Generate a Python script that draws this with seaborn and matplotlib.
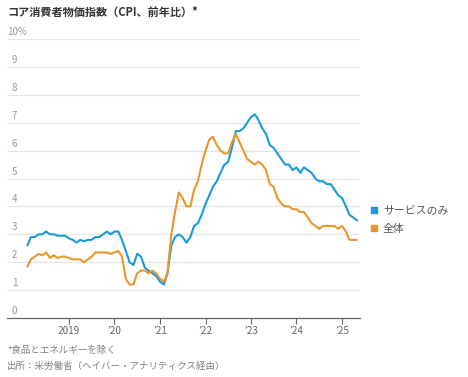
import numpy as np
import pandas as pd
import matplotlib
matplotlib.use("Agg")
import matplotlib.pyplot as plt
import matplotlib.transforms as mtransforms
from matplotlib.lines import Line2D
import seaborn as sns

# ---- data (monthly, Feb 2018 - May 2025) ----
months = pd.date_range("2018-02-01", "2025-05-01", freq="MS")

services_only = [
    2.6, 2.9, 2.9, 3.0, 3.0, 3.1, 3.0, 3.0, 2.95, 2.95, 2.95,           # 2018
    2.85, 2.8, 2.7, 2.8, 2.75, 2.8, 2.8, 2.9, 2.9, 3.0, 3.1, 3.0,     # 2019
    3.1, 3.1, 2.8, 2.4, 2.0, 1.9, 2.3, 2.2, 1.8, 1.7, 1.6, 1.5,       # 2020
    1.3, 1.2, 1.6, 2.6, 2.9, 3.0, 2.9, 2.7, 2.9, 3.3, 3.4, 3.7,       # 2021
    4.1, 4.4, 4.7, 4.9, 5.2, 5.5, 5.6, 6.1, 6.7, 6.7, 6.8, 7.0,       # 2022
    7.2, 7.3, 7.1, 6.8, 6.6, 6.2, 6.1, 5.9, 5.7, 5.5, 5.5, 5.3,       # 2023
    5.4, 5.2, 5.4, 5.3, 5.2, 5.0, 4.9, 4.9, 4.8, 4.8, 4.6, 4.4,       # 2024
    4.3, 4.0, 3.7, 3.6, 3.5,                                          # 2025
]
overall = [
    1.85, 2.1, 2.2, 2.3, 2.25, 2.35, 2.15, 2.25, 2.15, 2.2, 2.2,      # 2018
    2.15, 2.1, 2.1, 2.1, 2.0, 2.1, 2.2, 2.35, 2.35, 2.35, 2.35, 2.3,  # 2019
    2.35, 2.4, 2.2, 1.4, 1.2, 1.2, 1.6, 1.7, 1.7, 1.6, 1.7, 1.6,      # 2020
    1.4, 1.3, 1.6, 3.0, 3.8, 4.5, 4.3, 4.0, 4.0, 4.6, 4.9, 5.5,       # 2021
    6.0, 6.4, 6.5, 6.2, 6.0, 5.9, 5.9, 6.3, 6.6, 6.3, 6.0, 5.7,       # 2022
    5.6, 5.5, 5.6, 5.5, 5.3, 4.8, 4.7, 4.3, 4.1, 4.0, 4.0, 3.9,       # 2023
    3.9, 3.8, 3.8, 3.6, 3.4, 3.3, 3.2, 3.3, 3.3, 3.3, 3.3, 3.2,       # 2024
    3.3, 3.1, 2.8, 2.8, 2.8,                                          # 2025
]
series_names = ["サービスのみ", "全体"]
colors = ["#1a9ad8", "#e8972c"]

y_ticks = [0, 1, 2, 3, 4, 5, 6, 7, 8, 9, 10]
y_labels = ["0", "1", "2", "3", "4", "5", "6", "7", "8", "9", "10%"]
x_tick_dates = ["2019-01-01", "2020-01-01", "2021-01-01", "2022-01-01",
                "2023-01-01", "2024-01-01", "2025-01-01"]
x_tick_labels = ["2019", "’20", "’21", "’22", "’23", "’24", "’25"]

title = "コア消費者物価指数（CPI、前年比）*"
note1 = "*食品とエネルギーを除く"
note2 = "出所：米労働省（ヘイバー・アナリティクス経由）"

df = pd.DataFrame({
    "date": list(months) * 2,
    "value": services_only + overall,
    "series": [series_names[0]] * len(months) + [series_names[1]] * len(months),
})

# ---- style ----
sns.set_theme(style="white")
plt.rcParams["font.family"] = ["Noto Sans CJK JP", "DejaVu Sans"]

W, H = 468, 377
fig = plt.figure(figsize=(W / 100, H / 100), dpi=100)
ax_left, ax_right, ax_top, ax_bottom = 7, 360, 39, 318
ax = fig.add_axes([ax_left / W, 1 - ax_bottom / H,
                   (ax_right - ax_left) / W, (ax_bottom - ax_top) / H])

sns.lineplot(data=df, x="date", y="value", hue="series",
             palette=dict(zip(series_names, colors)),
             linewidth=1.5, ax=ax, legend=False)

ax.set_xlim(pd.Timestamp("2017-08-21"), pd.Timestamp("2025-05-25"))
ax.set_ylim(0, 10)

# grid
for v in y_ticks[1:]:
    ax.axhline(v, color="#e6e6e6", linewidth=0.9, zorder=0)

for s in ["top", "right", "left"]:
    ax.spines[s].set_visible(False)
ax.spines["bottom"].set_color("#666666")
ax.spines["bottom"].set_linewidth(0.9)

ax.set_yticks([])
ax.set_xticks(pd.to_datetime(x_tick_dates))
ax.set_xticklabels(x_tick_labels)
ax.tick_params(axis="x", direction="out", length=4, width=0.8, color="#666666",
               labelsize=7.2, labelcolor="#666666", pad=1.5, bottom=True)
ax.set_xlabel("")
ax.set_ylabel("")

# y labels above gridlines
trans = mtransforms.blended_transform_factory(fig.transFigure, ax.transData)
for v, lab in zip(y_ticks, y_labels):
    x_px = 7.5 if lab == "10%" else 12
    ax.text(x_px / W, v + 0.07, lab, transform=trans, ha="left", va="bottom",
            fontsize=7, color="#999999")

# title and notes
fig.text(7 / W, 1 - 12 / H, title, ha="left", va="center",
         fontsize=8, fontweight="bold", color="#333333")
fig.text(7 / W, 1 - 350 / H, note1, ha="left", va="center",
         fontsize=6.8, color="#808080")
fig.text(7 / W, 1 - 366 / H, note2, ha="left", va="center",
         fontsize=6.8, color="#808080")

# legend
handles = [Line2D([], [], marker="s", linestyle="", color=c, markersize=4)
           for c in colors]
fig.legend(handles, series_names, loc="upper left",
           bbox_to_anchor=(371 / W, 1 - 206 / H), frameon=False,
           fontsize=7.8, labelcolor="#555555", handlelength=0.6,
           handletextpad=0.5, labelspacing=0.7, borderpad=0, borderaxespad=0)

fig.savefig("out.png", dpi=100)
